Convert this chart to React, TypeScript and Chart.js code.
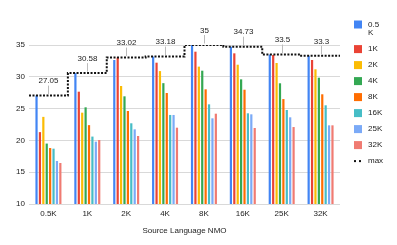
import React, { useEffect, useRef } from "react";
import { Chart, registerables } from "chart.js";

Chart.register(...registerables);

const categories = ["0.5K", "1K", "2K", "4K", "8K", "16K", "25K", "32K"];
const seriesNames = ["0.5K", "1K", "2K", "4K", "8K", "16K", "25K", "32K"];
const seriesColors = ["#4285F4", "#EA4335", "#FBBC04", "#34A853", "#FF6D01", "#46BDC6", "#7BAAF7", "#F07B72"];

const s05 = [27.05, 30.58, 32.64, 33.18, 35, 34.73, 33.5, 33.3];
const s1 = [21.3, 27.66, 33.02, 32.22, 33.95, 33.69, 33.43, 32.64];
const s2 = [23.7, 24.36, 28.55, 30.9, 31.6, 31.9, 32.17, 31.18];
const s4 = [19.5, 25.2, 26.93, 29.0, 30.96, 29.6, 28.98, 29.86];
const s8 = [18.8, 22.4, 24.62, 27.45, 28.03, 27.97, 26.5, 27.25];
const s16 = [18.7, 20.6, 22.69, 24.0, 25.67, 24.26, 24.78, 25.52];
const s25 = [16.76, 19.8, 21.74, 24.0, 23.47, 24.1, 23.63, 22.37];
const s32 = [16.45, 20.06, 20.69, 22.0, 24.2, 21.95, 22.1, 22.37];
const maxValues = [27.05, 30.58, 33.02, 33.18, 35, 34.73, 33.5, 33.3];
const maxName = "max";
const axisTitle = "Source Language NMO";

const FONT = "'Liberation Sans', Arial, sans-serif";
const TEXT = "#222222";

const overlayPlugin = {
  id: "overlay",
  afterDatasetsDraw(chart: any) {
    const { ctx } = chart;
    const xs = chart.scales.x;
    const ys = chart.scales.y;
    ctx.save();
    ctx.font = `8px ${FONT}`;
    ctx.textAlign = "center";
    ctx.textBaseline = "middle";
    maxValues.forEach((v, i) => {
      const x = Math.round(xs.getPixelForValue(i)) + 0.5;
      const y = ys.getPixelForValue(v);
      ctx.strokeStyle = "#bbbbbb";
      ctx.lineWidth = 1;
      ctx.beginPath();
      ctx.moveTo(x, y - 10);
      ctx.lineTo(x, y - 1.5);
      ctx.stroke();
      ctx.fillStyle = TEXT;
      ctx.fillText(String(v), x, y - 14.5);
    });
    ctx.restore();
  },
  afterDraw(chart: any) {
    const { ctx } = chart;
    ctx.save();
    ctx.font = `8px ${FONT}`;
    ctx.textAlign = "left";
    ctx.textBaseline = "middle";
    const sx = 354;
    const tx = 368;
    let y = 24.5;
    const lineH = 8.6;
    seriesNames.forEach((name, i) => {
      ctx.fillStyle = seriesColors[i];
      ctx.fillRect(sx, y - 4, 8, 8);
      ctx.fillStyle = TEXT;
      let lines = [name];
      if (ctx.measureText(name).width > 16) {
        lines = [name.slice(0, -1), name.slice(-1)];
      }
      lines.forEach((l, k) => ctx.fillText(l, tx, y + k * lineH));
      y += 16 + (lines.length - 1) * lineH;
    });
    ctx.fillStyle = "#111";
    ctx.fillRect(sx, y - 1, 2, 2);
    ctx.fillRect(sx + 5, y - 1, 2, 2);
    ctx.fillStyle = TEXT;
    ctx.fillText(maxName, tx, y);
    ctx.restore();
  },
};

export default function App() {
  const ref = useRef<HTMLCanvasElement>(null);
  useEffect(() => {
    if (!ref.current) return;
    const allSeries = [s05, s1, s2, s4, s8, s16, s25, s32];
    const barSets = allSeries.map((d, i) => ({
      type: "bar" as const,
      label: seriesNames[i],
      data: d.map((v, k) => ({ x: k, y: v })),
      backgroundColor: seriesColors[i],
      borderWidth: 0,
      categoryPercentage: 0.7,
      barPercentage: 0.65,
      order: 1,
    }));
    const maxPoints = maxValues.map((v, i) => ({ x: i - 0.5, y: v }));
    maxPoints.push({ x: maxValues.length - 0.5, y: maxValues[maxValues.length - 1] });
    const chart = new Chart(ref.current, {
      type: "bar",
      data: {
        datasets: [
          ...barSets,
          {
            type: "line" as const,
            label: maxName,
            data: maxPoints,
            borderColor: "#111111",
            borderWidth: 2,
            borderDash: [2, 1.5],
            stepped: true,
            pointRadius: 0,
            fill: false,
            order: 0,
          } as any,
        ],
      },
      options: {
        responsive: false,
        animation: false,
        layout: { padding: { top: 45, right: 57, left: 0, bottom: 0 } },
        plugins: { legend: { display: false }, tooltip: { enabled: false } },
        scales: {
          x: {
            type: "linear",
            offset: false,
            min: -0.5,
            max: categories.length - 0.5,
            grid: { display: false, drawTicks: false },
            border: { display: false },
            afterBuildTicks(scale: any) {
              scale.ticks = categories.map((_, i) => ({ value: i }));
            },
            ticks: {
              color: TEXT,
              font: { size: 8, family: FONT },
              padding: 5,
              maxRotation: 0,
              autoSkip: false,
              callback: (v: any) => categories[v as number],
            },
            title: {
              display: true,
              text: axisTitle,
              color: TEXT,
              font: { size: 8, family: FONT },
              padding: { top: 4, bottom: 9 },
            },
            afterFit(scale: any) {
              scale.height = 41;
            },
          },
          y: {
            min: 10,
            max: 35,
            ticks: { stepSize: 5, color: TEXT, font: { size: 8, family: FONT }, padding: 4 },
            grid: { color: "#d9d9d9", drawTicks: false, lineWidth: 1 },
            border: { display: false },
            afterFit(scale: any) {
              scale.width = 29;
            },
          },
        },
      },
      plugins: [overlayPlugin],
    } as any);
    return () => chart.destroy();
  }, []);
  return (
    <div style={{ position: "fixed", left: 0, top: 0, width: 397, height: 245, background: "#fff" }}>
      <canvas ref={ref} width={397} height={245} style={{ width: 397, height: 245 }} />
    </div>
  );
}
